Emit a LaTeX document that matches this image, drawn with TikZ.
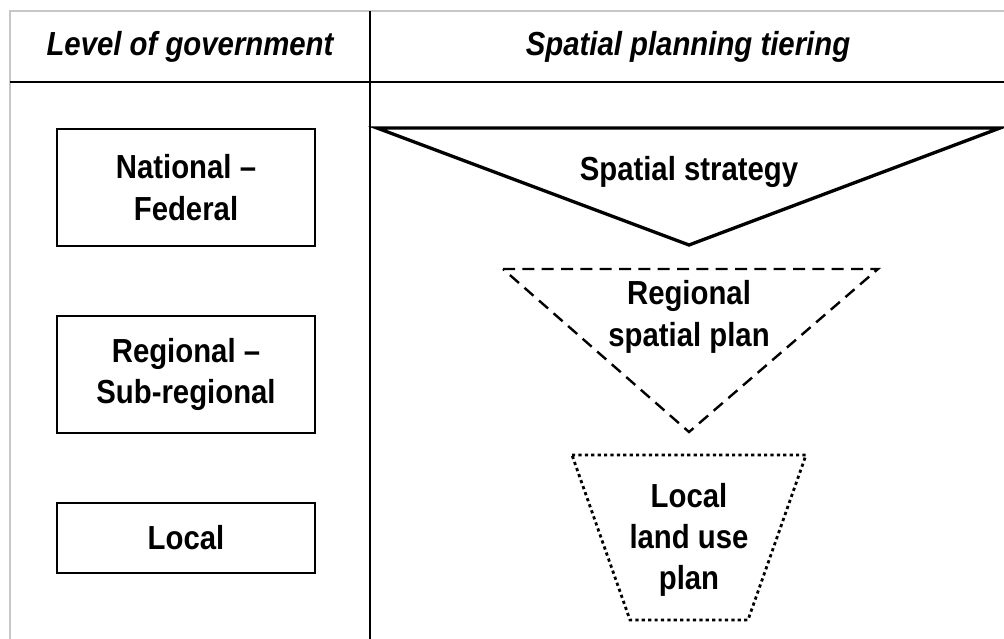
\documentclass[tikz,border=0pt]{standalone}
\usepackage{fontspec}
\setmainfont{Liberation Sans}[FakeStretch=0.88]
\usetikzlibrary{calc}
\tikzset{
  label text/.style={font=\bfseries\fontsize{25}{31}\selectfont, align=center, inner sep=0pt},
  head text/.style={font=\bfseries\itshape\fontsize{25}{31}\selectfont, inner sep=0pt},
  govbox/.style={draw, line width=1.5pt, label text, minimum width=193.5pt},
  frame/.style={draw=black!22, line width=1.2pt},
  rule/.style={line width=1.4pt}
}

\begin{document}
\begin{tikzpicture}[x=0.75pt, y=-0.75pt]
\useasboundingbox (0,0) rectangle (1004,639);
% table frame and rules
\draw[frame] (10,639) -- (10,11) -- (1010,11);
\draw[rule] (10,82) -- (1010,82);
\draw[rule] (370,11) -- (370,645);
% column heads
\node[head text] (lvlhead)  at (190,47) {Level of government};
\node[head text] (tierhead) at (688,47) {Spatial planning tiering};
% levels of government
\node[govbox, minimum height=87.75pt] (national) at (186,187.5) {National --\\Federal};
\node[govbox, minimum height=87.75pt] (regional) at (186,374.5) {Regional --\\Sub-regional};
\node[govbox, minimum height=52.5pt]  (local)    at (186,538)   {Local};
% planning tiers
\draw[line width=2.5pt, line join=miter] (377,128) -- (1000,128) -- (689,245) -- cycle;
\node[label text] (strategy) at (689,172) {Spatial strategy};
\draw[line width=1.8pt, dash pattern=on 9pt off 5.5pt] (503,269) -- (878,269) -- (689,432) -- cycle;
\node[label text] (regplan) at (689,317) {Regional\\spatial plan};
\draw[line width=2.1pt, dash pattern=on 2.4pt off 2.4pt] (572,455) -- (806,455) -- (748,620) -- (630,620) -- cycle;
\node[label text] (landuse) at (689,540) {Local\\land use\\plan};
\end{tikzpicture}
\end{document}
